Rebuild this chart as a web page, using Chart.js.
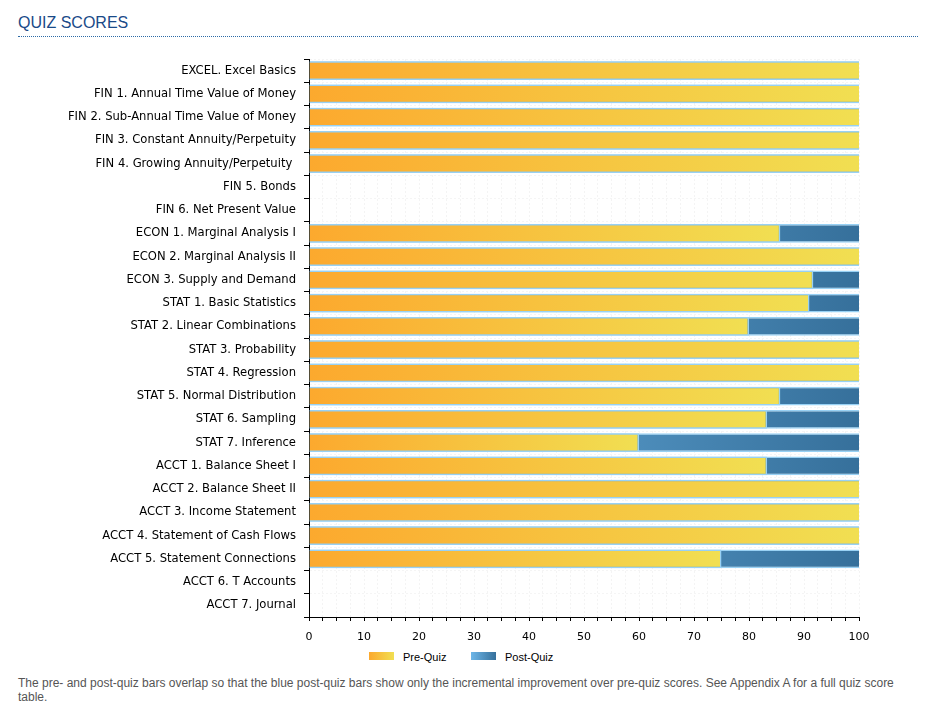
<!DOCTYPE html>
<html>
<head>
<meta charset="utf-8">
<script src="https://cdn.jsdelivr.net/npm/chart.js@4"></script>
<style>
  html, body { margin:0; padding:0; background:#fff; width:931px; height:722px; overflow:hidden; }
  #title { position:absolute; left:18px; top:14px; font-family:"Liberation Sans", Arial, sans-serif; font-size:16px; line-height:18px; color:#1a4a88; }
  #rule { position:absolute; left:18px; top:36px; width:900px; height:0; border-bottom:1px dotted #2c6aa6; }
  #wrap { position:absolute; left:0; top:41px; width:931px; height:609px; }
  #legend { position:absolute; top:650px; left:0; width:931px; height:16px; font-family:"Liberation Sans", Arial, sans-serif; font-size:11px; color:#000; }
  .sw { position:absolute; top:2px; width:25px; height:8px; }
  .lt { position:absolute; top:0px; line-height:14px; }
  #note { position:absolute; left:18px; top:676px; width:900px; font-family:"Liberation Sans", Arial, sans-serif; font-size:12px; line-height:14px; color:#555; }
</style>
</head>
<body>
<div id="title">QUIZ SCORES</div>
<div id="rule"></div>
<div id="wrap"><canvas id="c"></canvas></div>
<div id="legend">
  <div class="sw" style="left:369px;background:linear-gradient(to right,#fca92e,#f1df52);"></div>
  <div class="lt" style="left:403px;">Pre-Quiz</div>
  <div class="sw" style="left:471px;background:linear-gradient(to right,#6db6e8,#36709b);"></div>
  <div class="lt" style="left:505px;">Post-Quiz</div>
</div>
<div id="note">The pre- and post-quiz bars overlap so that the blue post-quiz bars show only the incremental improvement over pre-quiz scores. See Appendix A for a full quiz score<br>table.</div>
<script>
const categories = [
  "EXCEL. Excel Basics",
  "FIN 1. Annual Time Value of Money",
  "FIN 2. Sub-Annual Time Value of Money",
  "FIN 3. Constant Annuity/Perpetuity",
  "FIN 4. Growing Annuity/Perpetuity ",
  "FIN 5. Bonds",
  "FIN 6. Net Present Value",
  "ECON 1. Marginal Analysis I",
  "ECON 2. Marginal Analysis II",
  "ECON 3. Supply and Demand",
  "STAT 1. Basic Statistics",
  "STAT 2. Linear Combinations",
  "STAT 3. Probability",
  "STAT 4. Regression",
  "STAT 5. Normal Distribution",
  "STAT 6. Sampling",
  "STAT 7. Inference",
  "ACCT 1. Balance Sheet I",
  "ACCT 2. Balance Sheet II",
  "ACCT 3. Income Statement",
  "ACCT 4. Statement of Cash Flows",
  "ACCT 5. Statement Connections",
  "ACCT 6. T Accounts",
  "ACCT 7. Journal"
];
const preQuiz = [100,100,100,100,100,null,null,85.7,100,91.7,91,80,100,100,85.7,83.3,60,83.3,100,100,100,75,null,null];
const postQuiz = [100,100,100,100,100,null,null,100,100,100,100,100,100,100,100,100,100,100,100,100,100,100,null,null];
const xTickValues = [0,10,20,30,40,50,60,70,80,90,100];

function barGradient(c0, c1) {
  return function(ctx) {
    const chart = ctx.chart;
    if (!chart.chartArea || ctx.type !== 'data' || ctx.raw == null) return c1;
    const xs = chart.scales.x;
    const x0 = xs.getPixelForValue(0);
    const x1 = xs.getPixelForValue(ctx.raw);
    if (!(x1 > x0)) return c1;
    const g = chart.ctx.createLinearGradient(x0, 0, x1, 0);
    g.addColorStop(0, c0);
    g.addColorStop(1, c1);
    return g;
  };
}

const borderBlue = '#98d1f4';

new Chart(document.getElementById('c'), {
  type: 'bar',
  data: {
    labels: categories,
    datasets: [
      {
        label: 'Pre-Quiz',
        data: preQuiz,
        backgroundColor: barGradient('#fca92e', '#f1df52'),
        borderColor: borderBlue,
        borderWidth: (ctx) => ({ top: 1.5, bottom: 1.5, left: 0, right: (ctx.raw != null && ctx.raw < 100) ? 1.5 : 0 }),
        borderSkipped: false,
        grouped: false,
        barPercentage: 0.8,
        categoryPercentage: 1.0
      },
      {
        label: 'Post-Quiz',
        data: postQuiz,
        backgroundColor: barGradient('#6db6e8', '#36709b'),
        borderColor: borderBlue,
        borderWidth: { top: 1.5, bottom: 1.5, left: 0, right: 0 },
        borderSkipped: false,
        grouped: false,
        barPercentage: 0.8,
        categoryPercentage: 1.0
      }
    ]
  },
  options: {
    indexAxis: 'y',
    responsive: true,
    maintainAspectRatio: false,
    animation: false,
    layout: { padding: { top: 18, right: 72, bottom: 0, left: 0 } },
    plugins: {
      legend: { display: false },
      tooltip: { enabled: false },
      title: { display: false }
    },
    scales: {
      x: {
        min: 0, max: 100,
        afterFit: (s) => { s.height = 33; },
        afterBuildTicks: (s) => {
          const t = [];
          for (let i = 0; i < xTickValues.length - 1; i++) {
            const a = xTickValues[i], b = xTickValues[i+1];
            t.push({ value: a });
            t.push({ value: a + (b - a) / 4 });
            t.push({ value: a + (b - a) / 2 });
            t.push({ value: a + 3 * (b - a) / 4 });
          }
          t.push({ value: xTickValues[xTickValues.length - 1] });
          s.ticks = t;
        },
        ticks: {
          autoSkip: false,
          maxRotation: 0,
          padding: 10,
          color: '#000',
          font: { family: 'DejaVu Sans', size: 11 },
          callback: (v) => xTickValues.includes(v) ? String(v) : ''
        },
        grid: {
          color: '#f4f4f4',
          tickColor: '#000',
          tickLength: 4,
          lineWidth: 1
        },
        border: { color: '#000', width: 1, dash: [2, 2] }
      },
      y: {
        afterFit: (s) => { s.width = 309; },
        ticks: {
          autoSkip: false,
          padding: 8,
          color: '#000',
          font: { family: 'DejaVu Sans', size: 11.6 }
        },
        grid: {
          offset: true,
          color: '#f5f5f5',
          tickColor: '#000',
          tickLength: 5,
          lineWidth: 1
        },
        border: { color: '#000', width: 1, dash: [2, 2] }
      }
    }
  }
});
</script>
</body>
</html>
